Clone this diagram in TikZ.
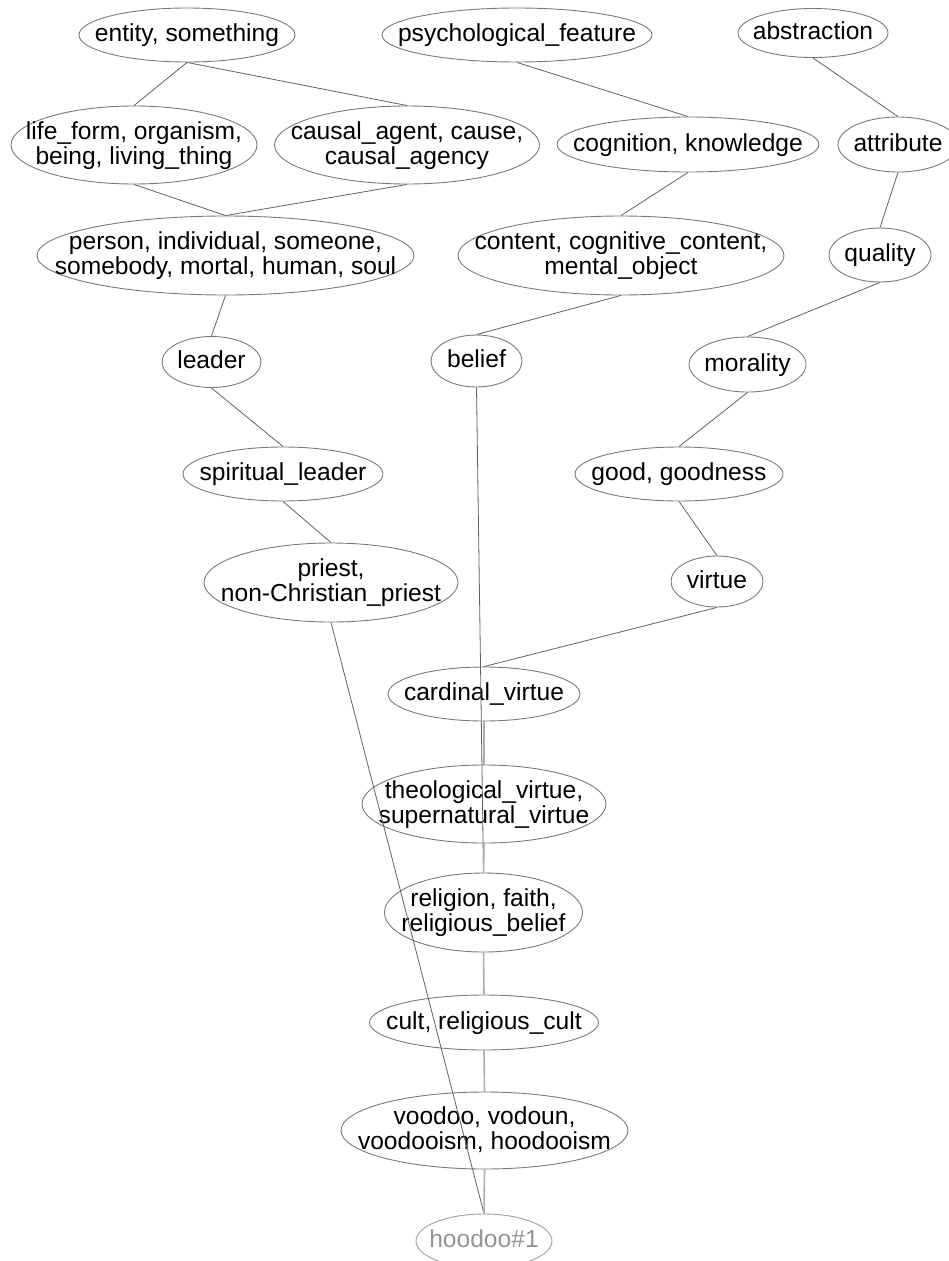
\documentclass[tikz,border=0pt]{standalone}
\usepackage{fontspec}
\setmainfont{Liberation Sans}
\usetikzlibrary{shapes.geometric}

% fixed line box: 19pt above, 6pt below the baseline
\newcommand\zs{\rule[-6pt]{0pt}{25pt}}
% one- and two-line labels of zero width, so the ellipse keeps its given size
\newcommand\one[1]{\makebox[0pt]{\zs#1}}
\newcommand\two[2]{\makebox[0pt]{\vbox{\halign{\hfil##\hfil\cr\zs#1\cr\zs#2\cr}}}}

\tikzset{
  syn/.style={ellipse, draw=black!52, line width=0.9pt, inner sep=0pt,
    font=\fontsize{24.6}{25}\selectfont},
  leaf/.style={syn, draw=black!38, text=black!42},
  hyp/.style={draw=black!62, line width=0.8pt},
  path/.style={draw=black!32, line width=1.6pt},
}

\begin{document}
\begin{tikzpicture}[x=1pt, y=-1pt]
\useasboundingbox (0,0) rectangle (948,1261);

% synsets, row by row
\node[syn, minimum width=216pt, minimum height=54pt] (entity) at (187,35) {\one{entity, something}};
\node[syn, minimum width=270pt, minimum height=54pt] (psych) at (517,35) {\one{psychological\_feature}};
\node[syn, minimum width=150pt, minimum height=49pt] (abstr) at (813,33) {\one{abstraction}};

\node[syn, minimum width=246pt, minimum height=78pt] (life) at (134,145) {\two{life\_form, organism,}{being, living\_thing}};
\node[syn, minimum width=265pt, minimum height=78pt] (causal) at (407,145) {\two{causal\_agent, cause,}{causal\_agency}};
\node[syn, minimum width=262pt, minimum height=55pt] (cogn) at (688,144.5) {\one{cognition, knowledge}};
\node[syn, minimum width=120pt, minimum height=55pt] (attr) at (898,144.5) {\one{attribute}};

\node[syn, minimum width=377pt, minimum height=79pt] (person) at (225.5,255.5) {\two{person, individual, someone,}{somebody, mortal, human, soul}};
\node[syn, minimum width=326pt, minimum height=79pt] (content) at (621,255.5) {\two{content, cognitive\_content,}{mental\_object}};
\node[syn, minimum width=102pt, minimum height=54pt] (quality) at (880,255) {\one{quality}};

\node[syn, minimum width=99pt, minimum height=51pt] (leader) at (211.5,362) {\one{leader}};
\node[syn, minimum width=91pt, minimum height=52pt] (belief) at (476.5,361) {\one{belief}};
\node[syn, minimum width=117pt, minimum height=55pt] (moral) at (747.5,364.5) {\one{morality}};

\node[syn, minimum width=200pt, minimum height=54pt] (spirit) at (283,474) {\one{spiritual\_leader}};
\node[syn, minimum width=208pt, minimum height=54pt] (good) at (679,474) {\one{good, goodness}};

\node[syn, minimum width=254pt, minimum height=79pt] (priest) at (331,582.5) {\two{priest,}{non-Christian\_priest}};
\node[syn, minimum width=92pt, minimum height=51pt] (virtue) at (717,581.5) {\one{virtue}};

\node[syn, minimum width=192pt, minimum height=54pt] (cardinal) at (484,694) {\one{cardinal\_virtue}};
\node[syn, minimum width=244pt, minimum height=78pt] (theo) at (484,804) {\two{theological\_virtue,}{supernatural\_virtue}};
\node[syn, minimum width=198pt, minimum height=79pt] (relig) at (483.5,912.5) {\two{religion, faith,}{religious\_belief}};
\node[syn, minimum width=229pt, minimum height=55pt] (cult) at (484,1022.5) {\one{cult, religious\_cult}};
\node[syn, minimum width=287pt, minimum height=77pt] (voodoo) at (484.5,1130.5) {\two{voodoo, vodoun,}{voodooism, hoodooism}};
\node[leaf, minimum width=136pt, minimum height=54pt] (hoodoo) at (484,1241) {\one{hoodoo\#1}};

% hypernym links
\path[hyp] (entity.south) -- (life.north);
\path[hyp] (entity.south) -- (causal.north);
\path[hyp] (psych.south) -- (cogn.north);
\path[hyp] (abstr.south) -- (attr.north);
\path[hyp] (life.south) -- (person.north);
\path[hyp] (causal.south) -- (person.north);
\path[hyp] (cogn.south) -- (content.north);
\path[hyp] (attr.south) -- (quality.north);
\path[hyp] (person.south) -- (leader.north);
\path[hyp] (content.south) -- (belief.north);
\path[hyp] (quality.south) -- (moral.north);
\path[hyp] (leader.south) -- (spirit.north);
\path[hyp] (moral.south) -- (good.north);
\path[hyp] (spirit.south) -- (priest.north);
\path[hyp] (good.south) -- (virtue.north);
\path[hyp] (virtue.south) -- (cardinal.north);
\path[hyp] (belief.south) -- (relig.north);
\path[hyp] (priest.south) -- (hoodoo.north);

% main chain down to the sense
\path[path] (cardinal.south) -- (theo.north);
\path[path] (theo.south) -- (relig.north);
\path[path] (relig.south) -- (cult.north);
\path[path] (cult.south) -- (voodoo.north);
\path[path] (voodoo.south) -- (hoodoo.north);
\end{tikzpicture}
\end{document}
